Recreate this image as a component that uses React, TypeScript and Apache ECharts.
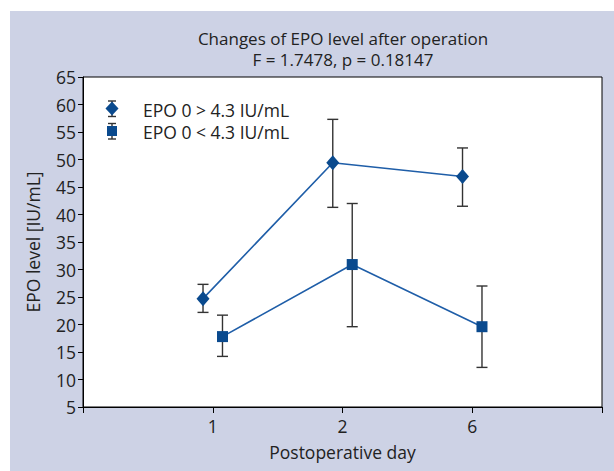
import React, { useEffect, useRef } from "react";
import * as echarts from "echarts";

const days = ["1", "2", "6"];
const highMean = [24.7, 49.4, 46.9];
const highLow = [22.2, 41.3, 41.5];
const highHigh = [27.3, 57.3, 52.1];
const lowMean = [17.8, 30.9, 19.6];
const lowLow = [14.2, 19.6, 12.2];
const lowHigh = [21.7, 42.0, 27.0];
const seriesNames = ["EPO 0 > 4.3 IU/mL", "EPO 0 < 4.3 IU/mL"];
const titleLines = ["Changes of EPO level after operation", "F = 1.7478, p = 0.18147"];

const FONT = "Open Sans";
const FS = 17.5;
const TXT = "#222";
const LINE = "#1f5ea8";
const MARK = "#0a4a8e";
const ERR = "#333";
const OFF = 0.075;

export default function App() {
  const ref = useRef<HTMLDivElement>(null);
  useEffect(() => {
    const chart = echarts.init(ref.current!, null, { renderer: "svg" });
    const pts = (vals: number[], off: number) => vals.map((v, i) => [i + 1 + off, v]);
    const errs = (lo: number[], hi: number[], off: number) =>
      lo.map((l, i) => [i + 1 + off, l, hi[i]]);
    const errSeries = (data: number[][]) => ({
      type: "custom",
      z: 1,
      data,
      encode: { x: 0, y: [1, 2] },
      renderItem: (params: any, api: any) => {
        const x = api.value(0);
        const a = api.coord([x, api.value(1)]);
        const b = api.coord([x, api.value(2)]);
        const h = 5.5;
        const st = { stroke: ERR, lineWidth: 1.4 };
        return {
          type: "group",
          children: [
            { type: "line", shape: { x1: a[0], y1: a[1], x2: b[0], y2: b[1] }, style: st },
            { type: "line", shape: { x1: a[0] - h, y1: a[1], x2: a[0] + h, y2: a[1] }, style: st },
            { type: "line", shape: { x1: b[0] - h, y1: b[1], x2: b[0] + h, y2: b[1] }, style: st },
          ],
        };
      },
    });
    const legendItem = (cy: number, shape: any, label: string) => [
      { type: "line", shape: { x1: 112, y1: cy - 7.5, x2: 112, y2: cy + 8 }, style: { stroke: ERR, lineWidth: 1.4 } },
      { type: "line", shape: { x1: 108, y1: cy - 7.5, x2: 116, y2: cy - 7.5 }, style: { stroke: ERR, lineWidth: 1.4 } },
      { type: "line", shape: { x1: 108, y1: cy + 8, x2: 116, y2: cy + 8 }, style: { stroke: ERR, lineWidth: 1.4 } },
      shape,
      {
        type: "text",
        x: 143,
        y: cy + 1,
        style: { text: label, fill: TXT, font: `${FS}px '${FONT}'`, textVerticalAlign: "middle" },
      },
    ];
    const titleStyle = { fontSize: 17, fontWeight: "normal", color: TXT, fontFamily: FONT, lineHeight: 18 };
    chart.setOption({
      animation: false,
      textStyle: { fontFamily: FONT },
      title: [
        { text: titleLines[0], left: 343, top: 29, textAlign: "center", padding: 0, textStyle: titleStyle },
        { text: titleLines[1], left: 343, top: 50, textAlign: "center", padding: 0, textStyle: titleStyle },
      ],
      grid: {
        left: 83,
        right: 12,
        top: 77,
        bottom: 64,
        show: true,
        backgroundColor: "#fff",
        borderColor: "#000",
        borderWidth: 1,
      },
      xAxis: {
        type: "value",
        min: 0,
        max: 4,
        interval: 1,
        name: "Postoperative day",
        nameLocation: "middle",
        nameGap: 36,
        nameTextStyle: { fontSize: FS, color: TXT, fontFamily: FONT },
        axisLine: { lineStyle: { color: "#000", width: 1 } },
        axisTick: { show: true, length: 6, lineStyle: { color: "#000" } },
        axisLabel: {
          fontSize: FS,
          color: TXT,
          margin: 10,
          formatter: (v: number) => (v >= 1 && v <= 3 ? days[v - 1] : ""),
        },
        splitLine: { show: false },
      },
      yAxis: {
        type: "value",
        min: 5,
        max: 65,
        interval: 5,
        name: "EPO level [IU/mL]",
        nameLocation: "middle",
        nameGap: 41,
        nameTextStyle: { fontSize: FS, color: TXT, fontFamily: FONT },
        axisLine: { show: true, lineStyle: { color: "#000", width: 1 } },
        axisTick: { show: true, length: 5, lineStyle: { color: "#000" } },
        axisLabel: { fontSize: FS, color: TXT, margin: 7 },
        splitLine: { show: false },
      },
      series: [
        errSeries(errs(highLow, highHigh, -OFF)),
        errSeries(errs(lowLow, lowHigh, OFF)),
        {
          type: "line",
          name: seriesNames[0],
          z: 3,
          data: pts(highMean, -OFF),
          symbol: "diamond",
          symbolSize: [13, 15],
          lineStyle: { color: LINE, width: 1.6 },
          itemStyle: { color: MARK },
        },
        {
          type: "line",
          name: seriesNames[1],
          z: 3,
          data: pts(lowMean, OFF),
          symbol: "rect",
          symbolSize: 11,
          lineStyle: { color: LINE, width: 1.6 },
          itemStyle: { color: MARK },
        },
      ],
      graphic: [
        ...legendItem(
          108.5,
          { type: "polygon", shape: { points: [[112, 101.5], [118.5, 108.5], [112, 115.5], [105.5, 108.5]] }, style: { fill: MARK } },
          seriesNames[0]
        ),
        ...legendItem(
          131,
          { type: "rect", shape: { x: 107, y: 126, width: 10, height: 10 }, style: { fill: MARK } },
          seriesNames[1]
        ),
      ],
    });
    return () => chart.dispose();
  }, []);
  return (
    <div style={{ position: "fixed", left: 0, top: 0, width: 614, height: 471, background: "#fff" }}>
      <div style={{ position: "absolute", left: 10, top: 11, right: 0, bottom: 0, background: "#cdd2e5" }} />
      <div ref={ref} style={{ position: "absolute", left: 0, top: 0, width: 614, height: 471 }} />
    </div>
  );
}
